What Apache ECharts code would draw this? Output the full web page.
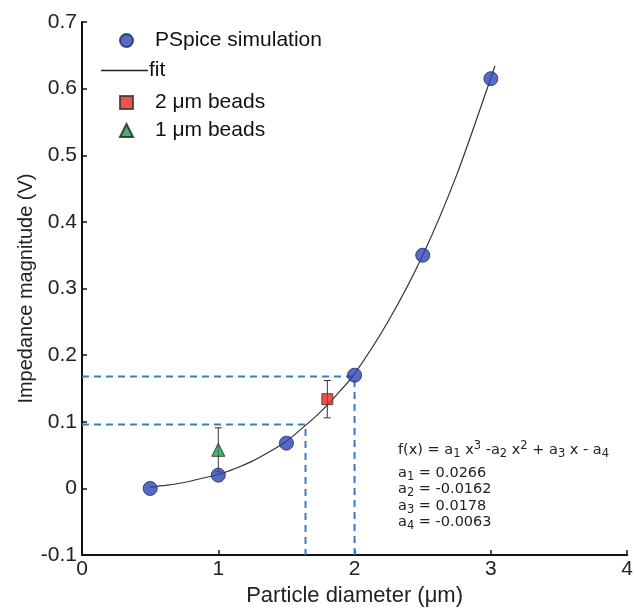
<!DOCTYPE html>
<html lang="en">
<head>
    <meta charset="UTF-8">
    <script src="https://cdn.jsdelivr.net/npm/echarts@6/dist/echarts.min.js"></script>
    <title>Impedance vs particle diameter</title>
</head>
<style>
    body{
        margin: 0;
        padding: 0;
        background: #fff;
    }
</style>
<body>
<div id="chart" style="width: 636px;height:612px;"></div>
</body>
<script>
    // PSpice simulation points
    var simX = [0.5, 1, 1.5, 2, 2.5, 3];
    var simY = [0.0, 0.02, 0.068, 0.17, 0.35, 0.615];

    // fit curve
    var fitX = [0.5, 0.625, 0.75, 0.875, 1, 1.125, 1.25, 1.375, 1.5, 1.625, 1.75, 1.875, 2, 2.25, 2.5, 2.75, 3, 3.03];
    var fitY = [0.002, 0.005, 0.009, 0.015, 0.021, 0.030, 0.041, 0.055, 0.071, 0.092, 0.115, 0.142, 0.172, 0.252, 0.350, 0.471, 0.616, 0.634];

    // measured beads (value, error half width)
    var bead2X = [1.8], bead2Y = [0.134], bead2Err = [0.028];
    var bead1X = [1.0], bead1Y = [0.058], bead1Err = [0.033];

    // dashed guide lines
    var guideA = [[0, 0.168], [2, 0.168], [2, -0.1]];
    var guideB = [[0, 0.096], [1.64, 0.096], [1.64, -0.1]];

    var xTicks = [0, 1, 2, 3, 4];
    var yTicks = [-0.1, 0, 0.1, 0.2, 0.3, 0.4, 0.5, 0.6, 0.7];

    // fit equation, {sub|..} / {sup|..} for indices
    var eqLines = [
        '{b|f(x) = a}{sub|1}{b| x}{sup|3}{b| -a}{sub|2}{b| x}{sup|2}{b| + a}{sub|3}{b| x - a}{sub|4}',
        '{b|a}{sub|1}{b| = 0.0266}',
        '{b|a}{sub|2}{b| = -0.0162}',
        '{b|a}{sub|3}{b| = 0.0178}',
        '{b|a}{sub|4}{b| = -0.0063}'
    ];

    function zip(xs, ys) {
        var out = [];
        for (var i = 0; i < xs.length; i++) out.push([xs[i], ys[i]]);
        return out;
    }
    function zipErr(xs, ys, es) {
        var out = [];
        for (var i = 0; i < xs.length; i++) out.push([xs[i], ys[i] - es[i], ys[i] + es[i]]);
        return out;
    }

    function errorBar(params, api) {
        var x = api.value(0);
        var lo = api.coord([x, api.value(1)]);
        var hi = api.coord([x, api.value(2)]);
        var cap = 3.5;
        var st = {stroke: '#333', lineWidth: 1};
        return {
            type: 'group',
            children: [
                {type: 'line', shape: {x1: lo[0], y1: lo[1], x2: hi[0], y2: hi[1]}, style: st},
                {type: 'line', shape: {x1: lo[0] - cap, y1: lo[1], x2: lo[0] + cap, y2: lo[1]}, style: st},
                {type: 'line', shape: {x1: hi[0] - cap, y1: hi[1], x2: hi[0] + cap, y2: hi[1]}, style: st}
            ]
        };
    }

    var fontMain = 'Liberation Sans, Arial, sans-serif';
    var guideStyle = {color: '#3a7cc4', width: 2, type: [7, 5]};

    function symLegend(name, top) {
        return {
            orient: 'vertical', left: 114, top: top,
            itemWidth: 13, itemHeight: 13,
            textStyle: {fontFamily: fontMain, fontSize: 21, color: '#111', padding: [0, 0, 0, 17]},
            data: [name]
        };
    }

    var chart = echarts.init(document.getElementById('chart'));
    var option = {
        animation: false,
        grid: {left: 82, right: 8, top: 22, bottom: 53},
        legend: [
            symLegend('PSpice simulation', 25),
            {
                left: 96, top: 55, itemWidth: 47, itemHeight: 1.5, icon: 'rect',
                textStyle: {fontFamily: fontMain, fontSize: 21, color: '#111', padding: [0, 0, 0, -4]},
                data: ['fit']
            },
            symLegend('2 \u03bcm beads', 87),
            symLegend('1 \u03bcm beads', 115)
        ],
        xAxis: {
            type: 'value',
            min: xTicks[0],
            max: xTicks[xTicks.length - 1],
            interval: 1,
            name: 'Particle diameter (\u03bcm)',
            nameLocation: 'middle',
            nameGap: 29,
            nameTextStyle: {fontFamily: fontMain, fontSize: 22, color: '#222'},
            axisLine: {onZero: false, lineStyle: {color: '#111', width: 2}},
            axisTick: {inside: true, length: 5, lineStyle: {color: '#111', width: 1.5}},
            axisLabel: {fontFamily: fontMain, fontSize: 21, color: '#222', margin: 4},
            splitLine: {show: false}
        },
        yAxis: {
            type: 'value',
            min: yTicks[0],
            max: yTicks[yTicks.length - 1],
            interval: 0.1,
            name: 'Impedance magnitude (V)',
            nameLocation: 'middle',
            nameGap: 46,
            nameMoveOverlap: false,
            nameTextStyle: {fontFamily: fontMain, fontSize: 20, color: '#222'},
            axisLine: {show: true, lineStyle: {color: '#111', width: 2}},
            axisTick: {show: true, inside: true, length: 5, lineStyle: {color: '#111', width: 1.5}},
            axisLabel: {
                fontFamily: fontMain, fontSize: 21, color: '#222', margin: 5,
                formatter: function (v) { return String(Math.round(v * 10) / 10); }
            },
            splitLine: {show: false}
        },
        series: [
            {
                name: 'guideA', type: 'line', data: guideA, symbol: 'none',
                lineStyle: guideStyle, silent: true, z: 1
            },
            {
                name: 'guideB', type: 'line', data: guideB, symbol: 'none',
                lineStyle: guideStyle, silent: true, z: 1
            },
            {
                name: 'fit', type: 'line', data: zip(fitX, fitY), symbol: 'none',
                smooth: 0.3,
                lineStyle: {color: '#333', width: 1.2}, itemStyle: {color: '#222'}, z: 2
            },
            {
                name: 'err', type: 'custom', renderItem: errorBar,
                data: zipErr(bead2X, bead2Y, bead2Err).concat(zipErr(bead1X, bead1Y, bead1Err)), z: 3
            },
            {
                name: 'PSpice simulation', type: 'scatter', data: zip(simX, simY),
                symbol: 'circle', symbolSize: 14,
                itemStyle: {color: '#3045b2', borderColor: '#1c2470', borderWidth: 1}, z: 4
            },
            {
                name: '2 \u03bcm beads', type: 'scatter', data: zip(bead2X, bead2Y),
                symbol: 'rect', symbolSize: 11,
                itemStyle: {color: '#e8281e', borderColor: '#333', borderWidth: 1}, z: 4
            },
            {
                name: '1 \u03bcm beads', type: 'scatter', data: zip(bead1X, bead1Y),
                symbol: 'triangle', symbolSize: 13,
                itemStyle: {color: '#23974a', borderColor: '#222', borderWidth: 1}, z: 4
            }
        ],
        graphic: [{
            type: 'group',
            left: 398,
            top: 440,
            children: eqLines.map(function (t, i) {
                return {
                    type: 'text',
                    x: 0,
                    y: i === 0 ? 0 : 23 + (i - 1) * 16.5,
                    style: {
                        text: t,
                        fill: '#222',
                        rich: {
                            b: {fontFamily: 'DejaVu Sans', fontSize: 14.5, lineHeight: 20, fill: '#222'},
                            sub: {fontFamily: 'DejaVu Sans', fontSize: 11.5, lineHeight: 10, verticalAlign: 'bottom', fill: '#222'},
                            sup: {fontFamily: 'DejaVu Sans', fontSize: 11.5, lineHeight: 10, verticalAlign: 'top', fill: '#222'}
                        }
                    }
                };
            })
        }]
    };
    chart.setOption(option);
</script>
</html>
